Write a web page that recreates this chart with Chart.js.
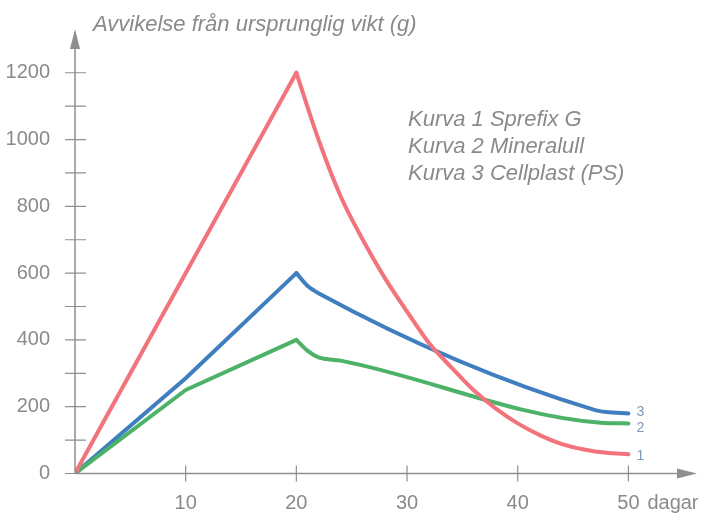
<!DOCTYPE html>
<html>
<head>
<meta charset="utf-8">
<script src="https://cdn.jsdelivr.net/npm/chart.js@4"></script>
<style>
  html, body { margin: 0; padding: 0; background: #fff; }
  #wrap { width: 706px; height: 519px; position: relative; }
</style>
</head>
<body>
<div id="wrap"><canvas id="chart"></canvas></div>
<script>
// ─────────────────────────────────────────
//  DATA
// ─────────────────────────────────────────
const redDays   = [0, 20, 22, 24, 26, 28, 30, 32, 34, 36, 38, 40, 42, 44, 46, 48, 50];
const redVals   = [0, 1200, 1000, 830, 700, 585, 485, 390, 318, 250, 195, 150, 115, 88, 72, 62, 58];

const blueDays  = [0, 10, 20, 21, 22, 47, 48, 50];
const blueVals  = [0, 285, 600, 562, 540, 190, 184, 180];

const greenDays = [0, 10, 20, 21, 22, 24, 47.5, 50];
const greenVals = [0, 250, 400, 368, 348, 338, 152, 150];

const yTicks    = [0, 200, 400, 600, 800, 1000, 1200];
const xTicks    = [10, 20, 30, 40, 50];

const yTitle    = 'Avvikelse från ursprunglig vikt (g)';
const xUnit     = 'dagar';
const legendLines = ['Kurva 1 Sprefix G', 'Kurva 2 Mineralull', 'Kurva 3 Cellplast (PS)'];
const endLabels = ['1', '2', '3'];

// ─────────────────────────────────────────
//  STYLE
// ─────────────────────────────────────────
const FONT       = '"Liberation Sans", Arial, sans-serif';
const TEXT_GRAY  = '#8a8a8a';
const AXIS_GRAY  = '#8f8f8f';
const RED        = '#f2737b';
const BLUE       = '#3f7fbf';
const GREEN      = '#4cb268';
const LABEL_BLUE = '#7c99ba';

const toXY = (xs, ys) => xs.map((x, i) => ({ x, y: ys[i] }));

// rising part straight, falling part smoothed (sharp peak kept)
function curveSets(label, days, vals, color) {
  const pk = vals.indexOf(Math.max(...vals));
  const pts = toXY(days, vals);
  const base = {
    borderColor: color,
    backgroundColor: 'transparent',
    borderWidth: 4,
    pointRadius: 0,
    borderJoinStyle: 'round',
    borderCapStyle: 'round',
  };
  return [
    { ...base, label: label + ' upp', data: pts.slice(0, pk + 1), tension: 0 },
    { ...base, label: label + ' ned', data: pts.slice(pk), cubicInterpolationMode: 'monotone' },
  ];
}

// ── axes with crossing ticks, arrows and free text ─────────
const decorPlugin = {
  id: 'decor',
  afterDraw(chart) {
    const { ctx, scales: { x, y } } = chart;
    const x0 = x.getPixelForValue(0);
    const y0 = y.getPixelForValue(0);
    const top = chart.chartArea.top;
    const right = chart.chartArea.right;

    ctx.save();
    ctx.strokeStyle = AXIS_GRAY;
    ctx.fillStyle = AXIS_GRAY;
    ctx.lineWidth = 1.5;

    // axis lines
    ctx.beginPath();
    ctx.moveTo(x0, y0); ctx.lineTo(x0, top + 10);
    ctx.moveTo(x0, y0); ctx.lineTo(right - 10, y0);
    ctx.stroke();

    // arrow heads
    ctx.beginPath();
    ctx.moveTo(x0, top); ctx.lineTo(x0 - 5, top + 20); ctx.lineTo(x0 + 5, top + 20);
    ctx.closePath(); ctx.fill();
    ctx.beginPath();
    ctx.moveTo(right, y0); ctx.lineTo(right - 20, y0 - 5); ctx.lineTo(right - 20, y0 + 5);
    ctx.closePath(); ctx.fill();

    // y ticks every 100, crossing the axis; x ticks crossing too
    ctx.lineWidth = 1.2;
    ctx.beginPath();
    for (let v = 100; v <= 1200; v += 100) {
      const py = y.getPixelForValue(v);
      ctx.moveTo(x0 - 10, py); ctx.lineTo(x0 + 11, py);
    }
    ctx.moveTo(x0 - 10, y0); ctx.lineTo(x0, y0);
    xTicks.forEach(v => {
      const px = x.getPixelForValue(v);
      ctx.moveTo(px, y0 - 8); ctx.lineTo(px, y0 + 8);
    });
    ctx.stroke();

    // texts
    ctx.fillStyle = TEXT_GRAY;
    ctx.textBaseline = 'alphabetic';
    ctx.textAlign = 'left';
    ctx.font = 'italic 22px ' + FONT;
    ctx.fillText(yTitle, x0 + 18, 31);

    ctx.font = 'italic 22px ' + FONT;
    legendLines.forEach((t, i) => ctx.fillText(t, 408, 126 + i * 27));

    ctx.font = '20px ' + FONT;
    const p50 = x.getPixelForValue(50);
    ctx.fillText(xUnit, p50 + 19, 509);

    // curve end labels (1 = red, 2 = green, 3 = blue)
    ctx.font = '14px ' + FONT;
    ctx.fillStyle = LABEL_BLUE;
    ctx.textBaseline = 'middle';
    const ends = [redVals[redVals.length - 1], greenVals[greenVals.length - 1], blueVals[blueVals.length - 1]];
    const nudge = [2, 5, -1];
    ends.forEach((v, i) => {
      ctx.fillText(endLabels[i], p50 + 8, y.getPixelForValue(v) + nudge[i]);
    });
    ctx.restore();
  },
};

// ─────────────────────────────────────────
//  CHART
// ─────────────────────────────────────────
new Chart(document.getElementById('chart'), {
  type: 'line',
  data: {
    datasets: [
      ...curveSets('Kurva 1', redDays, redVals, RED),
      ...curveSets('Kurva 2', greenDays, greenVals, GREEN),
      ...curveSets('Kurva 3', blueDays, blueVals, BLUE),
    ],
  },
  options: {
    responsive: true,
    maintainAspectRatio: false,
    animation: false,
    layout: { padding: { top: 12, right: 9, left: 0, bottom: 0 } },
    plugins: { legend: { display: false }, tooltip: { enabled: false } },
    scales: {
      x: {
        type: 'linear',
        min: 0,
        max: 56.2,
        grid: { display: false },
        border: { display: false },
        afterBuildTicks: s => { s.ticks = xTicks.map(v => ({ value: v })); },
        afterFit: s => { s.height = 45.5; },
        ticks: {
          color: TEXT_GRAY,
          font: { family: FONT, size: 20 },
          padding: 10,
          maxRotation: 0,
          callback: v => String(v),
        },
      },
      y: {
        min: 0,
        max: 1331,
        grid: { display: false },
        border: { display: false },
        afterBuildTicks: s => { s.ticks = yTicks.map(v => ({ value: v })); },
        afterFit: s => { s.width = 75; },
        ticks: {
          color: TEXT_GRAY,
          font: { family: FONT, size: 20 },
          padding: 17,
          callback: v => String(v),
        },
      },
    },
  },
  plugins: [decorPlugin],
});
</script>
</body>
</html>
